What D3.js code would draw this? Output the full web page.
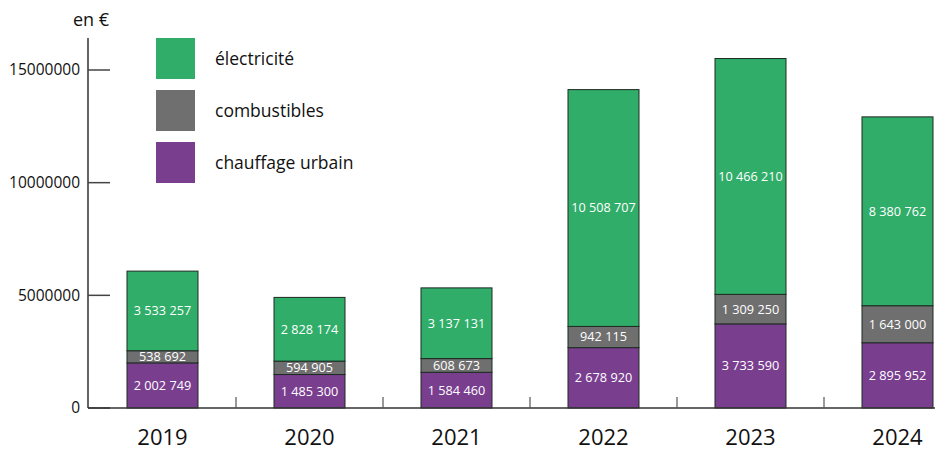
<!DOCTYPE html>
<html>
<head>
<meta charset="utf-8">
<script src="https://cdn.jsdelivr.net/npm/d3@7.9.0/dist/d3.min.js"></script>
<style>
  body { margin: 0; background: #fff; }
  svg { display: block; font-family: "Open Sans", sans-serif; }
</style>
</head>
<body>
<svg id="chart" width="935" height="450"></svg>
<script>
// Data
const years = ['2019', '2020', '2021', '2022', '2023', '2024'];
const chauffage = [2002749, 1485300, 1584460, 2678920, 3733590, 2895952];
const combustibles = [538692, 594905, 608673, 942115, 1309250, 1643000];
const electricite = [3533257, 2828174, 3137131, 10508707, 10466210, 8380762];
const seriesNames = ['chauffage urbain', 'combustibles', 'électricité'];
const yTicks = [0, 5000000, 10000000, 15000000];

const colors = {
  'électricité': '#2fad69',
  'combustibles': '#6f6f6f',
  'chauffage urbain': '#7a3e8f'
};

const rows = years.map((y, i) => ({
  year: y,
  'chauffage urbain': chauffage[i],
  'combustibles': combustibles[i],
  'électricité': electricite[i]
}));

const svg = d3.select('#chart');
const x0 = 88, yBase = 408, yTop = 38;

const x = d3.scaleBand().domain(years).range([x0 + 1, x0 + 1 + 147 * 6]).paddingInner(0.517).paddingOuter(0.2585);
const y = d3.scaleLinear().domain([0, 16420000]).range([yBase, yTop]);

const stacked = d3.stack().keys(seriesNames)(rows);

// bars + value labels
stacked.forEach(layer => {
  const g = svg.append('g');
  g.selectAll('rect').data(layer).enter().append('rect')
    .attr('x', d => x(d.data.year))
    .attr('width', x.bandwidth())
    .attr('y', d => y(d[1]))
    .attr('height', d => y(d[0]) - y(d[1]))
    .attr('fill', colors[layer.key])
    .attr('stroke', '#1e2a22')
    .attr('stroke-width', 1);

  g.selectAll('text').data(layer).enter().append('text')
    .attr('x', d => x(d.data.year) + x.bandwidth() / 2)
    .attr('y', d => (y(d[0]) + y(d[1])) / 2)
    .attr('dy', '0.35em')
    .attr('text-anchor', 'middle')
    .attr('fill', '#fff')
    .attr('font-size', 12.7)
    .text(d => d3.format(',')(d.data[layer.key]).replace(/,/g, ' '));
});

// y axis
svg.append('line').attr('x1', x0).attr('x2', x0).attr('y1', yTop).attr('y2', yBase)
  .attr('stroke', '#111').attr('stroke-width', 1.3);
yTicks.forEach(t => {
  svg.append('line').attr('x1', x0).attr('x2', x0 + 22).attr('y1', y(t)).attr('y2', y(t))
    .attr('stroke', '#444').attr('stroke-width', 1.5);
  svg.append('text').attr('x', 80).attr('y', y(t)).attr('dy', '0.35em')
    .attr('text-anchor', 'end').attr('font-size', 15.5).attr('fill', '#111')
    .text(t);
});
svg.append('text').attr('x', 73).attr('y', 26).attr('font-size', 18).attr('fill', '#111').text('en €');

// x axis
svg.append('line').attr('x1', x0).attr('x2', 935).attr('y1', yBase).attr('y2', yBase)
  .attr('stroke', '#333').attr('stroke-width', 1.3);
years.slice(1).forEach(yr => {
  const xv = x(yr) - x.step() * x.paddingInner() / 2;
  svg.append('line').attr('x1', xv).attr('x2', xv).attr('y1', yBase - 11).attr('y2', yBase)
    .attr('stroke', '#555').attr('stroke-width', 1.2);
});
svg.selectAll('.year').data(years).enter().append('text')
  .attr('x', d => x(d) + x.bandwidth() / 2)
  .attr('y', 445)
  .attr('text-anchor', 'middle')
  .attr('font-size', 22)
  .attr('fill', '#111')
  .text(d => d);

// legend
const legendItems = ['électricité', 'combustibles', 'chauffage urbain'];
legendItems.forEach((k, i) => {
  const ly = 38 + i * 52;
  svg.append('rect').attr('x', 156).attr('y', ly).attr('width', 39).attr('height', 41).attr('fill', colors[k]);
  svg.append('text').attr('x', 215).attr('y', ly + 20.5).attr('dy', '0.35em')
    .attr('font-size', 17.5).attr('fill', '#111').text(k);
});
</script>
</body>
</html>
